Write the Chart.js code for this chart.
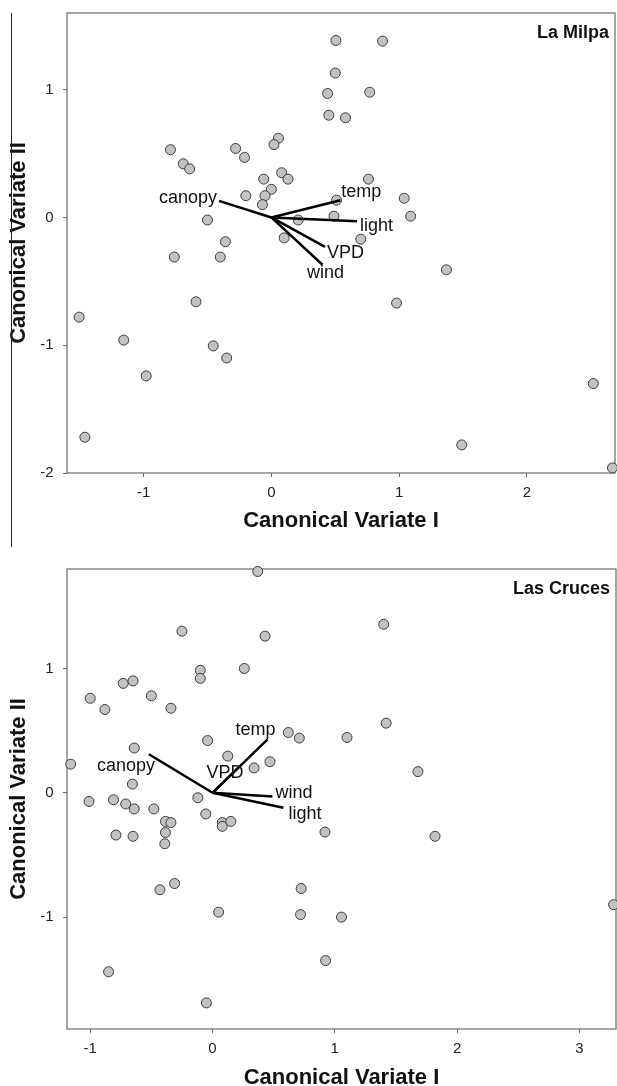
<!DOCTYPE html>
<html>
<head>
<meta charset="utf-8">
<script src="https://cdn.jsdelivr.net/npm/chart.js@4.4.1/dist/chart.umd.min.js"></script>
<style>
  html, body { margin: 0; padding: 0; background: #fff; overflow: hidden; }
  #wrap { position: relative; width: 617px; height: 1086px; overflow: hidden; }
  canvas { position: absolute; left: 0; }
  #milpa { top: 0; }
  #cruces { top: 548px; }
</style>
</head>
<body>
<div id="wrap">
  <canvas id="milpa" width="617" height="548"></canvas>
  <canvas id="cruces" width="617" height="560"></canvas>
</div>
<script>
// La Milpa - site scores on canonical variates I and II
const milpaX = [-0.79, -0.69, -0.64, -0.28, -0.21, 0.055, 0.02, 0.08, 0.13, -0.06,
  0.0, -0.05, -0.07, -0.20, -0.50, 0.21, 0.10, -0.36, -0.76, -0.40,
  0.505, 0.87, 0.50, 0.44, 0.77, 0.45, 0.58, 0.76, 0.51, 1.04,
  0.49, 1.09, 0.70, 1.37, 0.98, 2.52, 1.49, 2.67, -0.59, -1.505,
  -1.156, -0.455, -0.35, -0.98, -1.46];
const milpaY = [0.53, 0.42, 0.38, 0.54, 0.47, 0.62, 0.57, 0.35, 0.30, 0.30,
  0.22, 0.17, 0.10, 0.17, -0.02, -0.02, -0.16, -0.19, -0.31, -0.31,
  1.385, 1.38, 1.13, 0.97, 0.98, 0.80, 0.78, 0.30, 0.135, 0.15,
  0.01, 0.01, -0.17, -0.41, -0.67, -1.30, -1.78, -1.96, -0.66, -0.78,
  -0.96, -1.005, -1.10, -1.24, -1.72];
// environmental variable vectors
const milpaVars = ['canopy', 'temp', 'light', 'VPD', 'wind'];
const milpaVecX = [-0.41, 0.54, 0.67, 0.42, 0.40];
const milpaVecY = [0.13, 0.135, -0.03, -0.23, -0.37];
const milpaXTicks = [-1, 0, 1, 2];
const milpaYTicks = [-2, -1, 0, 1];

// Las Cruces
const crucesX = [0.37, -0.25, 0.43, -0.10, -0.10, 0.26, -0.73, -0.65, -1.00, -0.88,
  -0.50, -0.34, -0.04, -0.64, -1.16, 0.125, 0.34, 0.47, 0.62, 0.71,
  -0.655, -1.01, -0.81, -0.71, -0.64, -0.48, -0.12, 1.40, 1.42, 1.10,
  1.68, -0.055, -0.385, -0.34, 0.08, 0.08, 0.15, -0.79, -0.65, -0.385,
  -0.39, -0.43, -0.31, 0.05, 0.725, 0.72, -0.85, -0.05, 0.92, 1.82,
  1.055, 0.925, 3.28];
const crucesY = [1.78, 1.30, 1.26, 0.985, 0.92, 1.00, 0.88, 0.90, 0.76, 0.67,
  0.78, 0.68, 0.42, 0.36, 0.23, 0.295, 0.20, 0.25, 0.485, 0.44,
  0.07, -0.07, -0.056, -0.09, -0.13, -0.13, -0.04, 1.355, 0.56, 0.445,
  0.17, -0.17, -0.23, -0.24, -0.24, -0.27, -0.23, -0.34, -0.35, -0.32,
  -0.41, -0.78, -0.73, -0.96, -0.77, -0.98, -1.44, -1.69, -0.316, -0.35,
  -1.00, -1.35, -0.90];
const crucesVars = ['canopy', 'temp', 'VPD', 'wind', 'light'];
const crucesVecX = [-0.52, 0.45, 0.22, 0.49, 0.58];
const crucesVecY = [0.31, 0.43, 0.21, -0.03, -0.12];
const crucesXTicks = [-1, 0, 1, 2, 3];
const crucesYTicks = [-1, 0, 1];

const FONT = "'Liberation Sans', Arial, Helvetica, sans-serif";
const AXIS = '#6a6a6a';

function axis(min, max, ticks, title, horizontal, lay) {
  return {
    type: 'linear',
    min: min,
    max: max,
    afterBuildTicks: s => { s.ticks = ticks.map(v => ({ value: v })); },
    afterFit: s => {
      if (horizontal) {
        s.height = lay.h - lay.bottom;
        s.paddingLeft = 0; s.paddingRight = 0;
      } else {
        s.width = lay.left;
        s.paddingTop = 0; s.paddingBottom = 0;
      }
    },
    border: { display: false },
    grid: { drawOnChartArea: false, drawTicks: true, tickLength: 4, color: AXIS, lineWidth: 1 },
    ticks: {
      padding: horizontal ? 7 : 9.5,
      color: '#222',
      font: { family: FONT, size: 15 },
      callback: v => String(v)
    },
    title: {
      display: true,
      text: title,
      color: '#111',
      font: { family: FONT, size: 22, weight: 'bold' },
      padding: horizontal ? { top: 0, bottom: lay.titlePad } : { top: 6, bottom: 0 }
    }
  };
}

// frame, variable labels, site name
function biplotDecor(name, vars, vecX, vecY, offsets, edgeLine) {
  return {
    id: 'decor',
    beforeDatasetsDraw(chart) {
      const { ctx, chartArea: a } = chart;
      ctx.save();
      ctx.strokeStyle = AXIS;
      ctx.lineWidth = 1.2;
      ctx.strokeRect(a.left, a.top, a.right - a.left, a.bottom - a.top);
      if (edgeLine) {
        ctx.strokeStyle = '#222';
        ctx.lineWidth = 1;
        ctx.beginPath();
        ctx.moveTo(11.5, a.top);
        ctx.lineTo(11.5, edgeLine);
        ctx.stroke();
      }
      ctx.restore();
    },
    afterDatasetsDraw(chart) {
      const { ctx, chartArea: a, scales } = chart;
      ctx.save();
      ctx.fillStyle = '#111';
      ctx.textBaseline = 'alphabetic';
      ctx.font = '18px ' + FONT;
      vars.forEach((v, i) => {
        const o = offsets[i];
        ctx.textAlign = o.align;
        ctx.fillText(v, scales.x.getPixelForValue(vecX[i]) + o.dx, scales.y.getPixelForValue(vecY[i]) + o.dy);
      });
      ctx.font = 'bold 18px ' + FONT;
      ctx.textAlign = 'right';
      ctx.fillText(name, a.right - 6, a.top + 24.5);
      ctx.restore();
    }
  };
}

function makeChart(id, cfg) {
  const points = cfg.xs.map((x, i) => ({ x: x, y: cfg.ys[i] }));
  const vectors = cfg.vars.map((v, i) => ({
    label: v,
    data: [{ x: 0, y: 0 }, { x: cfg.vecX[i], y: cfg.vecY[i] }],
    showLine: true,
    borderColor: '#000',
    borderWidth: 2.5,
    pointRadius: 0,
    clip: false,
    order: 0
  }));
  return new Chart(document.getElementById(id), {
    type: 'scatter',
    data: {
      datasets: vectors.concat([{
        label: 'sites',
        data: points,
        pointRadius: 5,
        pointBorderWidth: 1,
        pointBackgroundColor: '#c2c2c2',
        pointBorderColor: '#3c3c3c',
        clip: false,
        order: 1
      }])
    },
    options: {
      responsive: false,
      animation: false,
      events: [],
      layout: { autoPadding: false, padding: { left: 0, top: cfg.lay.top, right: cfg.lay.right, bottom: 0 } },
      plugins: { legend: { display: false }, tooltip: { enabled: false } },
      scales: {
        x: axis(cfg.xMin, cfg.xMax, cfg.xTicks, 'Canonical Variate I', true, cfg.lay),
        y: axis(cfg.yMin, cfg.yMax, cfg.yTicks, 'Canonical Variate II', false, cfg.lay)
      }
    },
    plugins: [biplotDecor(cfg.name, cfg.vars, cfg.vecX, cfg.vecY, cfg.offsets, cfg.edgeLine)]
  });
}

makeChart('milpa', {
  name: 'La Milpa',
  xs: milpaX, ys: milpaY,
  vars: milpaVars, vecX: milpaVecX, vecY: milpaVecY,
  xTicks: milpaXTicks, yTicks: milpaYTicks,
  xMin: -1.6, xMax: 2.69, yMin: -2, yMax: 1.6,
  lay: { h: 548, left: 67, top: 13, right: 2, bottom: 473, titlePad: 14 },
  offsets: [
    { align: 'right', dx: -2, dy: 2 },
    { align: 'left', dx: 1, dy: -3 },
    { align: 'left', dx: 3, dy: 10 },
    { align: 'left', dx: 2, dy: 11 },
    { align: 'center', dx: 3, dy: 13 }
  ],
  edgeLine: 547
});

makeChart('cruces', {
  name: 'Las Cruces',
  xs: crucesX, ys: crucesY,
  vars: crucesVars, vecX: crucesVecX, vecY: crucesVecY,
  xTicks: crucesXTicks, yTicks: crucesYTicks,
  xMin: -1.19, xMax: 3.3, yMin: -1.9, yMax: 1.8,
  lay: { h: 560, left: 67, top: 21, right: 1, bottom: 481, titlePad: 16.8 },
  offsets: [
    { align: 'right', dx: 6, dy: 17 },
    { align: 'right', dx: 8, dy: -4 },
    { align: 'right', dx: 4, dy: 11 },
    { align: 'left', dx: 3, dy: 1 },
    { align: 'left', dx: 5, dy: 11 }
  ],
  edgeLine: 0
});
</script>
</body>
</html>
